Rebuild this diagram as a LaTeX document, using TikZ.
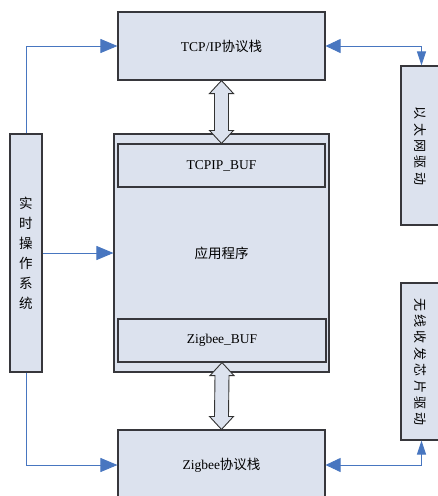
\documentclass[tikz,border=0pt]{standalone}
\usepackage{fontspec}
\setmainfont{Liberation Serif}
\newfontfamily\cjk{Noto Sans CJK SC}
\usetikzlibrary{calc,arrows.meta}

\definecolor{boxfill}{RGB}{220,226,238}
\definecolor{boxline}{RGB}{55,55,60}
\definecolor{linkblue}{RGB}{72,118,192}

% hollow double-headed arrow between two points (top, bottom)
\newcommand\hollowpair[2]{%
  \draw[hollowarrow] (#1) -- ($(#1)+(12,13)$) -- ($(#1)+(7,13)$)
    -- ($(#2)+(7,-13)$) -- ($(#2)+(12,-13)$) -- (#2)
    -- ($(#2)+(-12,-13)$) -- ($(#2)+(-7,-13)$)
    -- ($(#1)+(-7,13)$) -- ($(#1)+(-12,13)$) -- cycle;}
% small gap between the glyphs of the rotated driver labels
\newcommand\gp{\kern3.4pt}

\begin{document}
\begin{tikzpicture}[x=1pt,y=-1pt,
  blockbox/.style={draw=boxline,fill=boxfill,line width=1.1pt,rectangle,inner sep=0pt,
    font=\fontsize{13.5}{15}\selectfont},
  hollowarrow/.style={draw=black!80,fill=boxfill,line width=0.9pt,line join=miter},
  link/.style={draw=linkblue,line width=0.9pt},
  bigtip/.tip={Triangle[length=17pt,width=14pt]},
  smalltip/.tip={Triangle[length=14pt,width=9pt]}]
\useasboundingbox (0,0) rectangle (438,496);

% main blocks
\node[blockbox,minimum width=215pt,minimum height=238pt] (app) at (221.5,253) {{\cjk 应用程序}};
\node[blockbox,minimum width=207pt,minimum height=43pt] (tcpbuf) at (221.5,165.5) {TCPIP\_BUF};
\node[blockbox,minimum width=208pt,minimum height=43pt] (zbbuf) at (222,340.5) {Zigbee\_BUF};
\node[blockbox,minimum width=207pt,minimum height=68pt] (tcp) at (221.5,46) {TCP/IP{\cjk 协议栈}};
\node[blockbox,minimum width=207pt,minimum height=70pt] (zb) at (221.5,465) {Zigbee{\cjk 协议栈}};

% operating system column
\node[blockbox,minimum width=32pt,minimum height=238pt,align=center,
  font=\cjk\fontsize{13.5}{20}\selectfont] (rtos) at (26,253) {实\\时\\操\\作\\系\\统};

% driver blocks (partly beyond the right edge)
\node[blockbox,minimum width=41pt,minimum height=159pt] (eth) at (421.5,145.5) {};
\node[rotate=-90,font=\cjk\fontsize{13}{15}\selectfont] (ethlabel) at (420,146)
  {以\gp 太\gp 网\gp 驱\gp 动};
\node[blockbox,minimum width=41pt,minimum height=157pt] (wl) at (421.5,361.5) {};
\node[rotate=-90,font=\cjk\fontsize{13}{15}\selectfont] (wllabel) at (420,362)
  {无\gp 线\gp 收\gp 发\gp 芯\gp 片\gp 驱\gp 动};

% scheduling links from the operating system
\draw[link,-bigtip] (rtos.north) |- (tcp.west);
\draw[link,-bigtip] (rtos.east) -- (app.west);
\draw[link,-bigtip] (rtos.south) |- (zb.west);

% protocol stacks to drivers
\draw[link,{bigtip[length=15pt]}-smalltip] (tcp.east) -| (eth.north);
\draw[link,{bigtip[length=15pt]}-smalltip] (zb.east) -| (wl.south);

% data exchange with the buffers
\hollowpair{tcp.south}{tcpbuf.north}
\hollowpair{zbbuf.south}{zb.north}
\end{tikzpicture}
\end{document}
